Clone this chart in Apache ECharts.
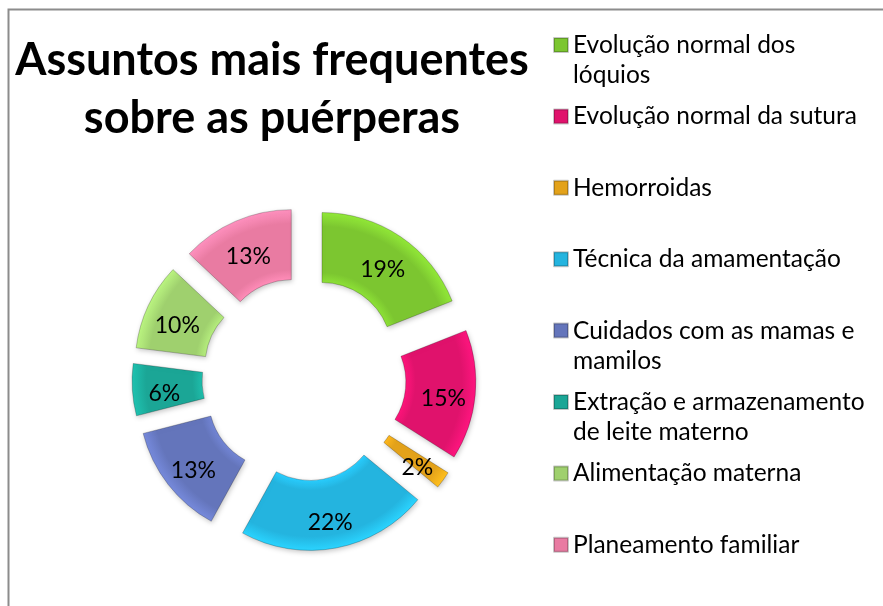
<!DOCTYPE html>
<html>
<head>
<meta charset="utf-8">
<script src="https://cdn.jsdelivr.net/npm/echarts@6/dist/echarts.min.js"></script>
<style>
  html, body { margin: 0; padding: 0; background: #fff; }
  #chart { width: 883px; height: 606px; }
</style>
</head>
<body>
<div id="chart"></div>
<script>
var categories = [
    'Evolução normal dos lóquios',
    'Evolução normal da sutura',
    'Hemorroidas',
    'Técnica da amamentação',
    'Cuidados com as mamas e mamilos',
    'Extração e armazenamento de leite materno',
    'Alimentação materna',
    'Planeamento familiar'
];
// percentages
var values = [19, 15, 2, 22, 13, 6, 10, 13];
// how each legend entry wraps
var legendLines = [
    ['Evolução normal dos', 'lóquios'],
    ['Evolução normal da sutura'],
    ['Hemorroidas'],
    ['Técnica da amamentação'],
    ['Cuidados com as mamas e', 'mamilos'],
    ['Extração e armazenamento', 'de leite materno'],
    ['Alimentação materna'],
    ['Planeamento familiar']
];
var colors = ['#7cc630', '#e0126c', '#e3a21a', '#24b4df', '#6475bb', '#1ba696', '#9fd06e', '#e97ba2'];

var CX = 304, CY = 379, R_IN = 70, R_OUT = 140;
var FONT = 'Lato';

// soft bevel: slightly darker near the inner and outer rims
function bevel(c) {
    var k = R_IN / R_OUT;
    return {
        type: 'radial', x: CX, y: CY, r: R_OUT, global: true,
        colorStops: [
            { offset: 0, color: c },
            { offset: k, color: echarts.color.lift(c, -0.14) },
            { offset: k + 0.07, color: c },
            { offset: 0.9, color: c },
            { offset: 1, color: echarts.color.lift(c, -0.18) }
        ]
    };
}

var pieData = categories.map(function (name, i) {
    return {
        name: name,
        value: values[i],
        selected: true,
        itemStyle: { color: bevel(colors[i]) }
    };
});

// square sitting at the top of a taller box, so it lines up with the first text line
var topSquare = 'path://M0,0h14v14h-14z M7,44l0.01,0';

var legends = categories.map(function (name, i) {
    var twoLines = legendLines[i].length > 1;
    return {
        data: [{ name: name, itemStyle: { color: colors[i] } }],
        orient: 'vertical',
        left: 553,
        top: 45 + i * 71.4 - 15,
        padding: 0,
        selectedMode: false,
        icon: twoLines ? topSquare : 'rect',
        itemWidth: 14,
        itemHeight: twoLines ? 44 : 14,
        itemGap: 0,
        formatter: function () { return legendLines[i].join('\n'); },
        textStyle: {
            fontFamily: FONT,
            fontSize: 24.5,
            color: '#000',
            lineHeight: 30
        }
    };
});

var chart = echarts.init(document.getElementById('chart'));
chart.setOption({
    animation: false,
    color: colors,
    title: {
        text: 'Assuntos mais frequentes\nsobre as puérperas',
        left: 267,
        top: 26,
        textAlign: 'center',
        textStyle: {
            fontFamily: FONT,
            fontSize: 45,
            fontWeight: 'bold',
            color: '#000',
            lineHeight: 58
        }
    },
    legend: legends,
    graphic: [{
        type: 'rect',
        silent: true,
        shape: { x: 8.5, y: 9.5, width: 900, height: 700 },
        style: { fill: 'none', stroke: '#8c8c8c', lineWidth: 2 }
    }],
    series: [{
        type: 'pie',
        center: [CX, CY],
        radius: [R_IN, R_OUT],
        startAngle: 90,
        clockwise: true,
        selectedMode: 'multiple',
        selectedOffset: 32,
        avoidLabelOverlap: false,
        label: {
            show: true,
            position: 'inside',
            formatter: '{c}%',
            fontFamily: FONT,
            fontSize: 23,
            color: '#000'
        },
        labelLayout: { dy: 6 },
        labelLine: { show: false },
        itemStyle: {
            borderColor: 'rgba(0,0,0,0.22)',
            borderWidth: 1,
            shadowBlur: 5,
            shadowOffsetX: 1,
            shadowOffsetY: 2,
            shadowColor: 'rgba(0,0,0,0.22)'
        },
        emphasis: { disabled: true },
        data: pieData
    }]
});
</script>
</body>
</html>
